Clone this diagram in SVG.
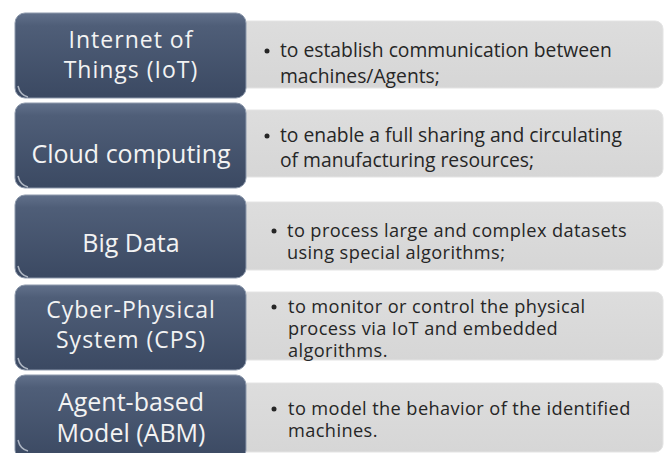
<svg xmlns="http://www.w3.org/2000/svg" width="670" height="453" viewBox="0 0 670 453">
  <defs>
    <linearGradient id="dark" x1="0" y1="0" x2="0" y2="1">
      <stop offset="0" stop-color="#61708a"/>
      <stop offset="0.15" stop-color="#4f5e78"/>
      <stop offset="1" stop-color="#3b4962"/>
    </linearGradient>
    <linearGradient id="gray" x1="0" y1="0" x2="0" y2="1">
      <stop offset="0" stop-color="#dddddd"/>
      <stop offset="1" stop-color="#d6d6d6"/>
    </linearGradient>
  </defs>
  <style>
    .term { fill: url(#dark); stroke: #8d99ac; stroke-width: 1; }
    .desc { fill: url(#gray); stroke: #e4e4e4; stroke-width: 1; }
    .lt { font-family: "Open Sans", "Liberation Sans", sans-serif; font-size: 25px; fill: #f3f3f3; text-anchor: middle; }
    .lt2 { font-size: 23px; letter-spacing: 1px; }
    .rt { font-family: "Open Sans", "Liberation Sans", sans-serif; font-size: 19.3px; fill: #262626; }
    .rt2 { font-size: 18.2px; letter-spacing: 0.4px; }
    .bul { fill: #262626; }
    .gl { fill: none; stroke: #c9d0da; stroke-width: 1.5; opacity: 0.8; }
  </style>
  <rect width="670" height="453" fill="#ffffff"/>

  <g id="row1">
    <g id="desc-iot">
      <rect class="desc" x="230" y="21" width="433" height="67" rx="8"/>
      <circle class="bul" cx="267" cy="51" r="2.5"/>
      <text class="rt" x="280" y="57">to establish communication between</text>
      <text class="rt" x="280" y="83">machines/Agents;</text>
    </g>
    <g id="node-iot">
      <rect class="term" x="15" y="13" width="231" height="85" rx="10"/>
      <path class="gl" d="M18,86 Q20,95 28,97"/>
      <text class="lt lt2" x="131" y="47.5">Internet of</text>
      <text class="lt lt2" x="131" y="77.5">Things (IoT)</text>
    </g>
  </g>

  <g id="row2">
    <g id="desc-cloud">
      <rect class="desc" x="230" y="110" width="433" height="67" rx="8"/>
      <circle class="bul" cx="267" cy="136" r="2.5"/>
      <text class="rt" x="280" y="142">to enable a full sharing and circulating</text>
      <text class="rt" x="280" y="167">of manufacturing resources;</text>
    </g>
    <g id="node-cloud">
      <rect class="term" x="15" y="103" width="231" height="85" rx="10"/>
      <path class="gl" d="M18,176 Q20,185 28,187"/>
      <text class="lt" x="131" y="163">Cloud computing</text>
    </g>
  </g>

  <g id="row3">
    <g id="desc-bigdata">
      <rect class="desc" x="230" y="202" width="433" height="68" rx="8"/>
      <circle class="bul" cx="274" cy="231" r="2.5"/>
      <text class="rt rt2" x="287" y="237">to process large and complex datasets</text>
      <text class="rt rt2" x="287" y="259">using special algorithms;</text>
    </g>
    <g id="node-bigdata">
      <rect class="term" x="15" y="195" width="231" height="83" rx="10"/>
      <path class="gl" d="M18,266 Q20,275 28,277"/>
      <text class="lt" x="131" y="252">Big Data</text>
    </g>
  </g>

  <g id="row4">
    <g id="desc-cps">
      <rect class="desc" x="230" y="292" width="433" height="68" rx="8"/>
      <circle class="bul" cx="274" cy="307" r="2.5"/>
      <text class="rt rt2" x="288" y="313">to monitor or control the physical</text>
      <text class="rt rt2" x="288" y="335">process via IoT and embedded</text>
      <text class="rt rt2" x="288" y="357">algorithms.</text>
    </g>
    <g id="node-cps">
      <rect class="term" x="15" y="285" width="231" height="85" rx="10"/>
      <path class="gl" d="M18,358 Q20,367 28,369"/>
      <text class="lt lt2" x="131" y="317.5">Cyber-Physical</text>
      <text class="lt lt2" x="131" y="347.5">System (CPS)</text>
    </g>
  </g>

  <g id="row5">
    <g id="desc-abm">
      <rect class="desc" x="230" y="383" width="433" height="69" rx="8"/>
      <circle class="bul" cx="274" cy="409" r="2.5"/>
      <text class="rt rt2" x="288" y="415">to model the behavior of the identified</text>
      <text class="rt rt2" x="288" y="437">machines.</text>
    </g>
    <g id="node-abm">
      <rect class="term" x="15" y="375" width="231" height="85" rx="10"/>
      <path class="gl" d="M18,440 Q20,449 28,451"/>
      <text class="lt" x="131" y="411">Agent-based</text>
      <text class="lt" x="131" y="442">Model (ABM)</text>
    </g>
  </g>
</svg>
